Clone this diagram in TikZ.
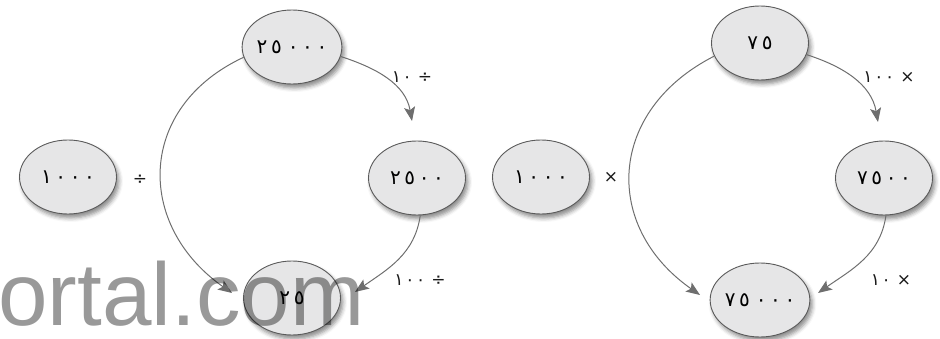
\documentclass[tikz,border=0pt]{standalone}
\usepackage{fontspec}
\usetikzlibrary{arrows.meta,shapes.geometric,shadows.blur}
\setmainfont{Liberation Sans}
\newfontfamily\arabicfont[Script=Arabic,LetterSpace=18]{DejaVu Sans}
\newfontfamily\arlabel[Script=Arabic,LetterSpace=10]{DejaVu Sans}
\definecolor{nodefill}{HTML}{E6E6E7}
\definecolor{edgegray}{HTML}{5A5A5A}
\definecolor{arrowgray}{HTML}{6E6E6E}
\newcommand\gap{\hspace{6pt}}
\tikzset{
  numnode/.style={ellipse, draw=edgegray, line width=0.9pt, fill=nodefill,
    minimum width=97pt, minimum height=74pt, inner sep=0pt,
    font=\arabicfont\fontsize{20}{20}\selectfont,
    blur shadow={shadow xshift=2.5pt, shadow yshift=-4pt, shadow blur radius=4pt, shadow opacity=45}},
  conn/.style={draw=arrowgray, line width=1pt, -{Stealth[length=14pt,width=11pt,inset=3pt]}},
  oplabel/.style={font=\arlabel\fontsize{17}{17}\selectfont, inner sep=0pt, text=black!90},
}
\begin{document}
\begin{tikzpicture}[x=1pt,y=1pt]
\useasboundingbox (0,0) rectangle (940,338);
% left diagram
\node[numnode] (L1000) at (68,161) {١٠٠٠};
\node[numnode] (L25000) at (292,291) {٢٥\gap٠٠٠};
\node[numnode] (L2500) at (417,160) {٢٥٠٠};
\node[numnode] (L25) at (292,40) {٢٥};
\node[oplabel] (Ldiv) at (140,158) {÷};
\coordinate (ta1) at (412,217);
\coordinate (ta2) at (355,46);
\coordinate (ta3) at (232,45);
\draw[conn] (L25000.-11) to[out=-18,in=100] (ta1);
\draw[conn] (L2500.-85) to[out=-98,in=35] (ta2);
\draw[conn] (L25000.192) to[out=205,in=145,looseness=1.28] (ta3);
\node[oplabel] (la1) at (412,261) {١٠\gap÷};
\node[oplabel] (la2) at (420,58) {١٠٠\gap÷};
% right diagram
\node[numnode] (R1000) at (541,161) {١٠٠٠};
\node[numnode] (R75) at (760,295) {٧٥};
\node[numnode] (R7500) at (884,160) {٧٥٠٠};
\node[numnode] (R75000) at (760,38) {٧٥\gap٠٠٠};
\node[oplabel] (Rmul) at (611,161) {×};
\coordinate (tb1) at (878,216);
\coordinate (tb2) at (818,45);
\coordinate (tb3) at (700,43);
\draw[conn] (R75.-14) to[out=-18,in=100] (tb1);
\draw[conn] (R7500.-87) to[out=-98,in=35] (tb2);
\draw[conn] (R75.196) to[out=207,in=145,looseness=1.28] (tb3);
\node[oplabel] (lb1) at (889,261) {١٠٠\gap×};
\node[oplabel] (lb2) at (891,58) {١٠\gap×};
% watermark
\node[anchor=base west, inner sep=0pt, font=\fontsize{89}{89}\selectfont, text=black, text opacity=0.4] (wm) at (-2,13) {ortal.com};
\end{tikzpicture}
\end{document}
